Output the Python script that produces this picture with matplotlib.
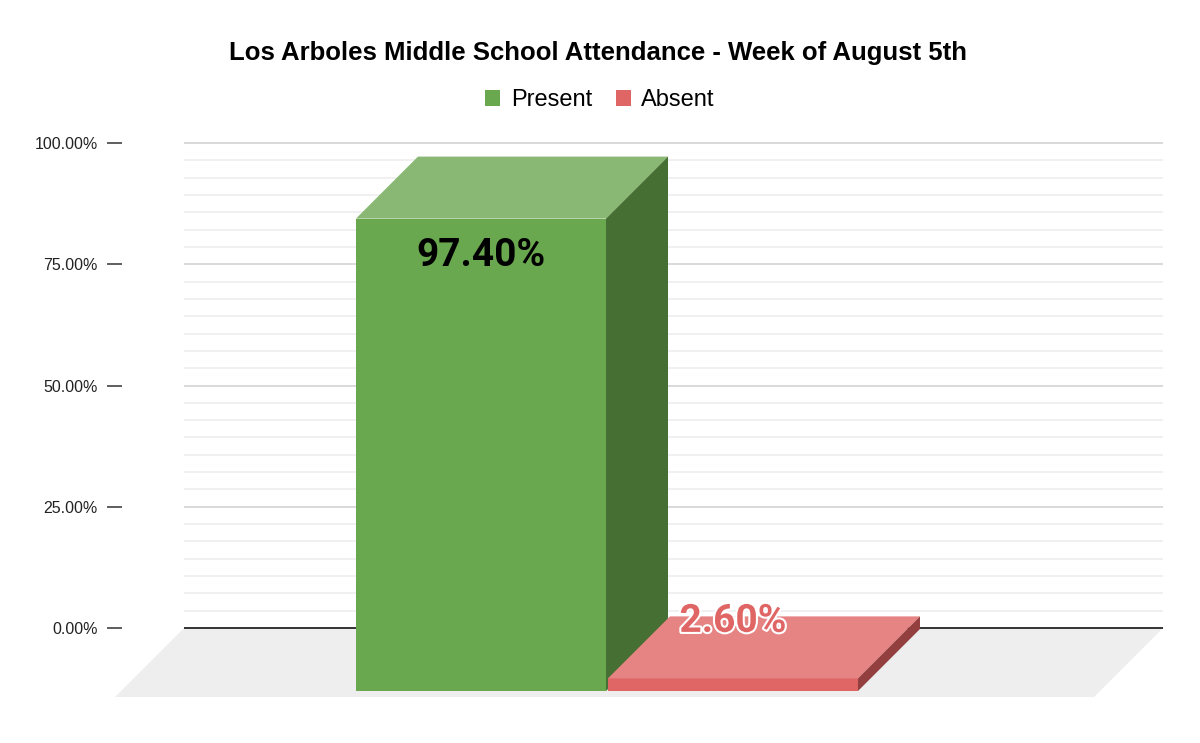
import matplotlib.pyplot as plt
from matplotlib.patches import Polygon, Patch
import matplotlib.patheffects as pe

plt.rcParams.update({"font.family": ["Liberation Sans", "DejaVu Sans"]})

# data
title = "Los Arboles Middle School Attendance - Week of August 5th"
series = ["Present", "Absent"]
values = [97.40, 2.60]
value_labels = ["97.40%", "2.60%"]
y_ticks = [0, 25, 50, 75, 100]
y_tick_labels = ["0.00%", "25.00%", "50.00%", "75.00%", "100.00%"]

# colours: front, top, side
front_colors = ["#6aa84f", "#e06666"]
top_colors = ["#88b873", "#e68484"]
side_colors = ["#466f33", "#943f3f"]
label_colors = ["black", "#e06666"]

# layout (pixels in a 1200x743 figure)
W, H = 1200, 743
ax_left, ax_right, ax_top, ax_bottom = 122, 1170, 143, 700
wall_left, wall_right, zero_px = 184, 1163, 628
px_x = wall_right - wall_left          # pixels per x unit
px_y = (zero_px - ax_top) / 100.0      # pixels per percent
floor_depth = 69
bar_depth = (1, 63)
group_center = 0.4964
bar_width = 0.2554
bar_gap = 0.002

fig = plt.figure(figsize=(W/100, H/100), dpi=100)
ax = fig.add_axes([ax_left/W, 1-ax_bottom/H, (ax_right-ax_left)/W, (ax_bottom-ax_top)/H])
ax.set_xlim((ax_left-wall_left)/px_x, (ax_right-wall_left)/px_x)
ax.set_ylim(-(ax_bottom-zero_px)/px_y, 100)
for s in ax.spines.values():
    s.set_visible(False)


def proj(x, v, d):
    # oblique projection: depth d pixels toward the viewer moves down-left
    return (x - d/px_x, v - d/px_y)


def face(pts, color, z):
    ax.add_patch(Polygon([proj(*p) for p in pts], closed=True, facecolor=color,
                         edgecolor="none", clip_on=False, zorder=z))


# floor
face([(0, 0, 0), (1, 0, 0), (1, 0, floor_depth), (0, 0, floor_depth)], "#eeeeee", 1)

# grid on the back wall
minor = [i*25/7 for i in range(29)]
ax.hlines(minor, 0, 1, color="#ececec", linewidth=1.1, zorder=2, clip_on=False)
ax.hlines(y_ticks[1:], 0, 1, color="#d6d6d6", linewidth=1.2, zorder=2, clip_on=False)
ax.hlines([0], 0, 1, color="#333333", linewidth=1.4, zorder=2, clip_on=False)

# bars
d0, d1 = bar_depth
for i, v in enumerate(values):
    if i == 0:
        x0 = group_center - bar_gap/2 - bar_width
    else:
        x0 = group_center + bar_gap/2
    x1 = x0 + bar_width
    z = 3 + i
    face([(x0, 0, d1), (x1, 0, d1), (x1, v, d1), (x0, v, d1)], front_colors[i], z)
    face([(x0, v, d1), (x1, v, d1), (x1, v, d0), (x0, v, d0)], top_colors[i], z)
    face([(x1, 0, d1), (x1, v, d1), (x1, v, d0), (x1, 0, d0)], side_colors[i], z)

    xc, yc = proj((x0+x1)/2, v, d1)
    if i == 0:
        off = -37*0.72
        effects = []
    else:
        off = 57*0.72
        effects = [pe.withStroke(linewidth=3, foreground="white")]
    ax.annotate(value_labels[i], (xc, yc), xytext=(0, off), textcoords="offset points",
                ha="center", va="center", fontsize=28, fontweight="bold",
                family=["Roboto", "DejaVu Sans"], color=label_colors[i],
                path_effects=effects, zorder=10, annotation_clip=False)

# y axis
ax.set_xticks([])
ax.set_yticks(y_ticks)
ax.set_yticklabels(y_tick_labels, fontsize=11.5, color="#222222")
ax.tick_params(axis="y", length=10.8, width=1.1, color="#333333", pad=6.5)

# title and legend
fig.text(598/W, 1-60/H, title, ha="center", va="baseline",
         fontsize=18.5, fontweight="bold", color="black")
handles = [Patch(facecolor=c, edgecolor="none") for c in front_colors]
fig.legend(handles, series, loc="center", bbox_to_anchor=(600/W, 1-100/H), ncol=2,
           frameon=False, fontsize=17, handlelength=0.64, handleheight=0.64,
           handletextpad=0.45, columnspacing=1.0, borderpad=0)

fig.savefig("out.png", dpi=100, facecolor="white")
